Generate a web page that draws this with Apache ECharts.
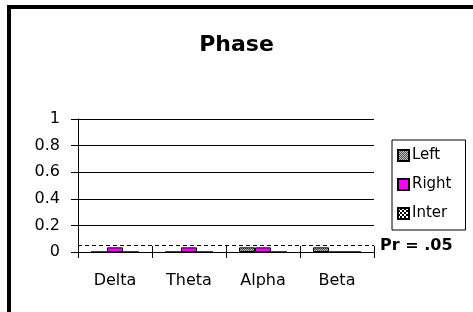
<!DOCTYPE html>
<html>
<head>
<meta charset="utf-8">
<script src="https://cdn.jsdelivr.net/npm/echarts@6/dist/echarts.min.js"></script>
<style>
  html, body { margin: 0; padding: 0; background: #fff; }
  #chart { width: 473px; height: 312px; }
</style>
</head>
<body>
<div id="chart"></div>
<script>
// data
let categories = ['Delta', 'Theta', 'Alpha', 'Beta'];
let leftVals  = [0, 0, 0.035, 0.035];
let rightVals = [0.035, 0.035, 0.035, 0];
let interVals = [0, 0, 0, 0];
let yTicks = [0, 0.2, 0.4, 0.6, 0.8, 1];
let prValue = 0.05;

// little fill patterns, like the old spreadsheet ones
let makePattern = function(size, draw){
    let c = document.createElement('canvas');
    c.width = size; c.height = size;
    draw(c.getContext('2d'));
    return { image: c, repeat: 'repeat' };
};
let leftFill = makePattern(2, function(ctx){
    ctx.fillStyle = '#555'; ctx.fillRect(0, 0, 2, 2);
    ctx.fillStyle = '#bbb'; ctx.fillRect(0, 0, 1, 1); ctx.fillRect(1, 1, 1, 1);
});
let interFill = makePattern(4, function(ctx){
    ctx.fillStyle = '#000'; ctx.fillRect(0, 0, 4, 4);
    ctx.fillStyle = '#fff'; ctx.fillRect(0, 0, 2, 2); ctx.fillRect(2, 2, 2, 2);
});

let font = 'DejaVu Sans';
let chart = echarts.init(document.getElementById('chart'));

let barStyle = function(fill){
    return { color: fill, borderColor: '#000', borderWidth: 1 };
};

let option = {
    animation: false,
    backgroundColor: '#fff',
    textStyle: { fontFamily: font, color: '#000' },
    title: {
        text: 'Phase',
        left: 'center',
        top: 29,
        textStyle: { fontFamily: font, fontSize: 22, fontWeight: 'bold', color: '#000' }
    },
    graphic: [{
        type: 'polyline',
        shape: { points: [[9, 312], [9, 7], [473, 7]] },
        style: { stroke: '#000', lineWidth: 4, fill: null }
    }],
    legend: {
        orient: 'vertical',
        left: 392,
        top: 140,
        width: 76,
        itemWidth: 11,
        itemHeight: 11,
        itemGap: 14,
        padding: [8, 14, 9, 5],
        borderColor: '#000',
        borderWidth: 1,
        textStyle: { fontFamily: font, fontSize: 15, color: '#000', padding: [0, 0, 0, -2] },
        data: [
            { name: 'Left', icon: 'rect' },
            { name: 'Right', icon: 'rect' },
            { name: 'Inter', icon: 'rect' }
        ]
    },
    grid: { left: 78, right: 99, top: 119, bottom: 60 },
    xAxis: [{
        type: 'category',
        data: categories,
        axisLine: { lineStyle: { color: '#000', width: 1 } },
        axisTick: { show: true, length: 6, lineStyle: { color: '#000' } },
        axisLabel: { fontFamily: font, fontSize: 16, color: '#000', margin: 21 }
    }, {
        // second copy only to get the ticks crossing the axis
        type: 'category',
        data: categories,
        position: 'bottom',
        axisLine: { show: false },
        axisTick: { show: true, inside: true, length: 6, lineStyle: { color: '#000' } },
        axisLabel: { show: false }
    }],
    yAxis: {
        type: 'value',
        min: 0,
        max: 1,
        interval: 0.2,
        axisLine: { show: true, lineStyle: { color: '#000' } },
        axisTick: { show: true, length: 7, lineStyle: { color: '#000' } },
        splitLine: { lineStyle: { color: '#000', width: 1 } },
        axisLabel: {
            fontFamily: font, fontSize: 16, color: '#000', margin: 18,
            formatter: function(v){
                let t = yTicks.find(function(k){ return Math.abs(k - v) < 1e-9; });
                return t === undefined ? '' : String(t);
            }
        }
    },
    series: [
        {
            name: 'Left', type: 'bar', data: leftVals,
            barWidth: 16, barGap: '0%',
            itemStyle: barStyle(leftFill)
        },
        {
            name: 'Right', type: 'bar', data: rightVals,
            barWidth: 16, barGap: '0%',
            itemStyle: barStyle('#ff00ff'),
            markLine: {
                silent: true,
                symbol: 'none',
                lineStyle: { color: '#000', type: [4, 3], width: 1 },
                label: {
                    show: true,
                    position: 'end',
                    formatter: 'Pr = .05',
                    fontFamily: font,
                    fontSize: 16,
                    fontWeight: 'bold',
                    color: '#000',
                    distance: 6
                },
                data: [{ yAxis: prValue }]
            }
        },
        {
            name: 'Inter', type: 'bar', data: interVals,
            barWidth: 16, barGap: '0%',
            itemStyle: barStyle(interFill)
        }
    ]
};

chart.setOption(option);
</script>
</body>
</html>
